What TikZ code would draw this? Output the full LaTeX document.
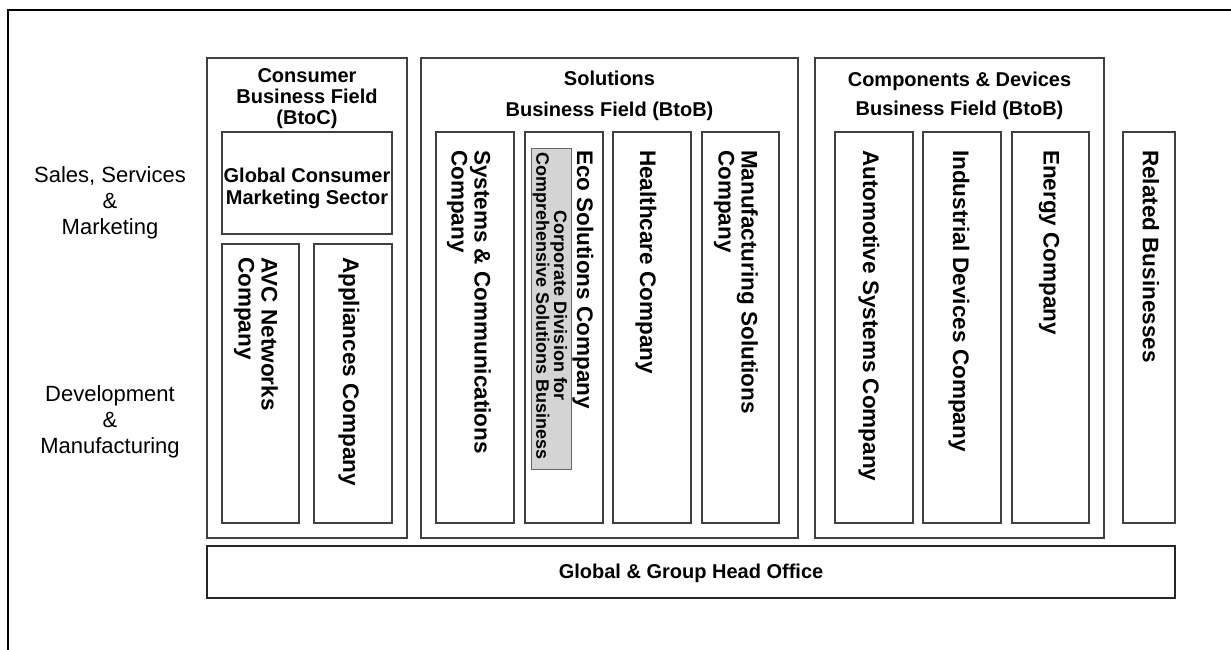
\documentclass[tikz,border=0pt]{standalone}
\usepackage{fontspec}
\setmainfont{Liberation Sans}
\begin{document}
\begin{tikzpicture}[x=1pt,y=-1pt,
  box/.style={draw=black!75, line width=1.1pt},
  vtext/.style={rotate=-90, anchor=west, inner sep=0pt, font=\bfseries\fontsize{22.5}{23}\selectfont, align=left},
  head/.style={font=\bfseries\fontsize{20}{21}\selectfont, align=center, inner sep=0pt},
  sidetext/.style={font=\fontsize{22}{26}\selectfont, align=center, inner sep=0pt},
  greytext/.style={rotate=-90, inner sep=0pt, font=\bfseries\fontsize{18}{13.5}\selectfont, align=center}]
\useasboundingbox (0,0) rectangle (1231,650);
\draw[line width=2pt] (8,652) -- (8,10) -- (1233,10);

% field boxes
\draw[box] (207,58) rectangle (407,538);
\draw[box] (421,58) rectangle (798,538);
\draw[box] (815,58) rectangle (1104,538);
% inner boxes consumer
\draw[box] (222,132) rectangle (392,234);
\draw[box] (222,244) rectangle (299,523);
\draw[box] (314,244) rectangle (392,523);
% solutions
\draw[box] (436,132) rectangle (514,523);
\draw[box] (525,132) rectangle (603,523);
\draw[box] (613,132) rectangle (691,523);
\draw[box] (702,132) rectangle (779,523);
\draw[draw=black!60, fill=black!17, line width=0.9pt] (531,148) rectangle (571,469);
% components
\draw[box] (835,132) rectangle (913,523);
\draw[box] (923,132) rectangle (1001,523);
\draw[box] (1012,132) rectangle (1089,523);
% related
\draw[box] (1123,132) rectangle (1175,523);
% head office
\draw[draw=black!85, line width=1.4pt] (207,546) rectangle (1175,598);

% headings
\node[head] (hcons) at (307,99) {Consumer\\Business Field\\(BtoC)};
\node[head, font=\bfseries\fontsize{20}{31}\selectfont] (hsol) at (609.5,96) {Solutions\\Business Field (BtoB)};
\node[head, font=\bfseries\fontsize{20}{29}\selectfont] (hcomp) at (959.5,96) {Components \& Devices\\Business Field (BtoB)};
\node[head, font=\bfseries\fontsize{20}{22}\selectfont] (gcms) at (307,188) {Global Consumer\\Marketing Sector};
\node[head] (gho) at (691,573) {Global \& Group Head Office};

% side labels
\node[sidetext] (ssm) at (110,203) {Sales, Services\\\&\\Marketing};
\node[sidetext] (dm) at (110,422) {Development\\\&\\Manufacturing};

% vertical texts
\node[vtext] (avc) at (256,257) {AVC Networks\\Company};
\node[vtext] (appl) at (349,257) {Appliances Company};
\node[vtext] (sys) at (469,150) {Systems \& Communications\\Company};
\node[vtext] (eco) at (583,150) {Eco Solutions Company};
\node[vtext] (hc) at (646,150) {Healthcare Company};
\node[vtext] (mfg) at (736,150) {Manufacturing Solutions\\Company};
\node[vtext] (auto) at (869,150) {Automotive Systems Company};
\node[vtext] (ind) at (959,150) {Industrial Devices Company};
\node[vtext] (en) at (1049,150) {Energy Company};
\node[vtext] (rel) at (1151,150) {Related Businesses};
\node[greytext] (corp) at (550,306) {Corporate Division for\\Comprehensive Solutions Business};
\end{tikzpicture}
\end{document}
